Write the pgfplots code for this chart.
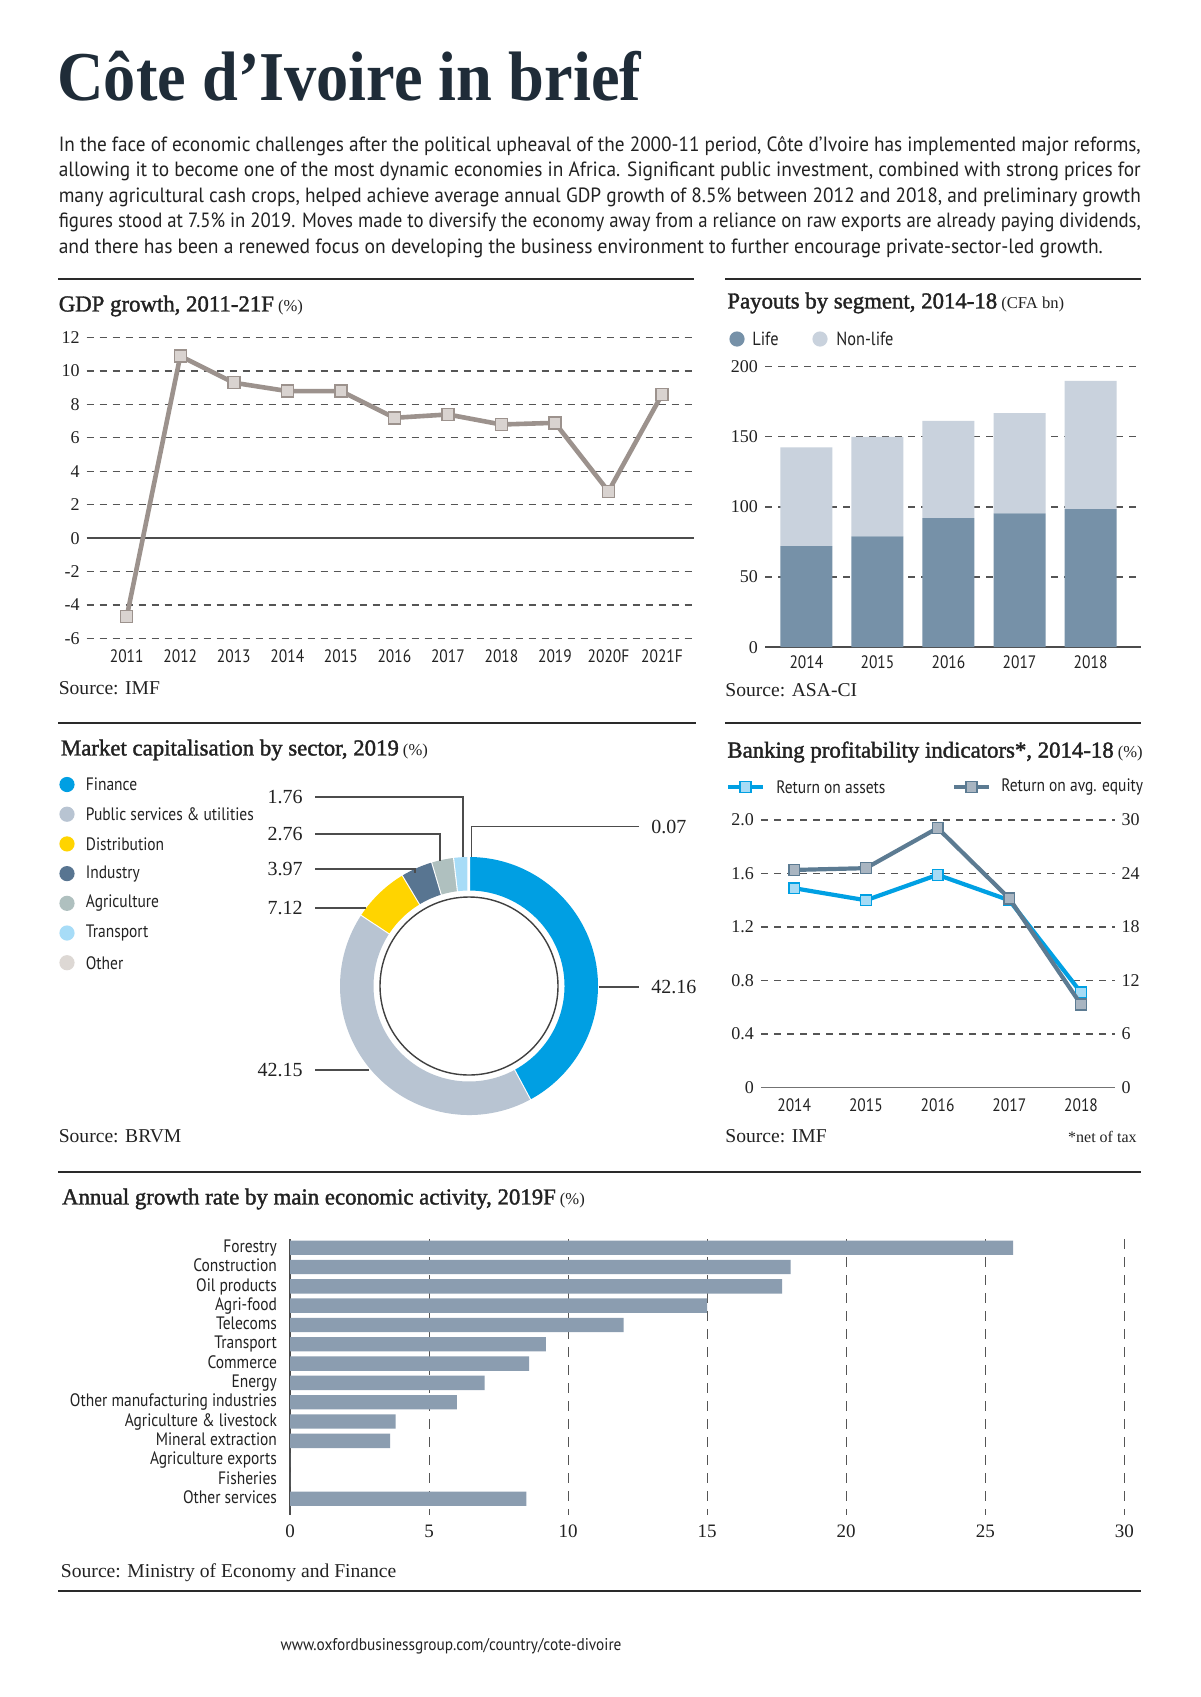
\documentclass[border=0pt]{standalone}
\usepackage{fontspec}
\usepackage{graphicx}
\usepackage{pgfplots}
\pgfplotsset{compat=1.18}
\setmainfont{PT Sans}
\newfontfamily\cond{PT Sans}[FakeStretch=0.86]
\newfontfamily\serif{Liberation Serif}
\newfontfamily\serifb{Liberation Serif}[FakeBold=1.6]
\newfontfamily\bigtitle{Liberation Serif}[FakeStretch=0.92]
\definecolor{titlenavy}{HTML}{1F2C38}
\definecolor{txt}{HTML}{222222}
\definecolor{rule}{HTML}{2A2A2A}
\definecolor{gridc}{HTML}{555555}
\definecolor{gdpline}{HTML}{9C928D}
\definecolor{gdpmark}{HTML}{D9D3D0}
\definecolor{life}{HTML}{7691A8}
\definecolor{nonlife}{HTML}{C9D2DD}
\definecolor{cfin}{HTML}{009FE3}
\definecolor{cpub}{HTML}{B8C4D2}
\definecolor{cdist}{HTML}{FFD400}
\definecolor{cind}{HTML}{587591}
\definecolor{cagr}{HTML}{AFC0BF}
\definecolor{ctra}{HTML}{A7DCF7}
\definecolor{coth}{HTML}{DDD8D4}
\definecolor{roa}{HTML}{00A0E3}
\definecolor{roafill}{HTML}{A6DBF5}
\definecolor{roae}{HTML}{5C7B92}
\definecolor{roaefill}{HTML}{A9B5C1}
\definecolor{barc}{HTML}{8B9DB0}
\newcommand{\ttl}[2]{{\serifb\fontsize{11.4}{13}\selectfont #1}{\serif\fontsize{8.3}{9}\selectfont\ (#2)}}
\newcommand{\src}[1]{{\serif\fontsize{9.8}{12}\selectfont #1}}
\pgfplotsset{
  common/.style={scale only axis, anchor=south west, clip=false,
    axis line style={draw=none}, major tick length=0pt,
    grid style={dash pattern=on 3.5pt off 3pt, line width=0.55pt, color=gridc},
    ticklabel style={text=txt},
    xticklabel style={font=\cond\fontsize{9}{10}\selectfont},
    yticklabel style={font=\serif\fontsize{9}{10}\selectfont}},
}
\begin{document}
\begin{tikzpicture}[x=0.5pt,y=-0.5pt]
\path[use as bounding box, fill=white] (0,0) rectangle (1200,1697);
% big title
\node[anchor=base west, inner sep=0, text=titlenavy] at (57,100.6) {\fontsize{35}{40}\selectfont\bigtitle\bfseries Côte d’Ivoire in brief};
% paragraph
\begin{scope}[every node/.style={anchor=base west, inner sep=0, text=txt}]
\node at (58.4,151.5) {\resizebox{541pt}{\height}{\cond\fontsize{10.3}{12}\selectfont In the face of economic challenges after the political upheaval of the 2000-11 period, Côte d’Ivoire has implemented major reforms,}};
\node at (58.4,176.9) {\resizebox{541pt}{\height}{\cond\fontsize{10.3}{12}\selectfont allowing it to become one of the most dynamic economies in Africa. Significant public investment, combined with strong prices for}};
\node at (58.4,202.3) {\resizebox{541pt}{\height}{\cond\fontsize{10.3}{12}\selectfont many agricultural cash crops, helped achieve average annual GDP growth of 8.5\% between 2012 and 2018, and preliminary growth}};
\node at (58.4,227.7) {\resizebox{541pt}{\height}{\cond\fontsize{10.3}{12}\selectfont figures stood at 7.5\% in 2019. Moves made to diversify the economy away from a reliance on raw exports are already paying dividends,}};
\node at (58.4,253.1) {\resizebox{522pt}{\height}{\cond\fontsize{10.3}{12}\selectfont and there has been a renewed focus on developing the business environment to further encourage private-sector-led growth.}};
\end{scope}
% rules
\begin{scope}[line width=1.1pt, draw=rule]
\draw (58.4,279) -- (693.6,279);
\draw (725,279) -- (1141,279);
\draw (58.4,723) -- (695.8,723);
\draw (725,723) -- (1141,723);
\draw (58.4,1172) -- (1141,1172);
\draw (58.4,1591) -- (1141,1591);
\end{scope}
% titles and sources
\begin{scope}[every node/.style={anchor=west, inner sep=0, text=txt}]
\node at (58.4,306) {\ttl{GDP growth, 2011-21F}{\%}};
\node at (58.4,688) {\src{Source: IMF}};
\node at (727,303) {\ttl{Payouts by segment, 2014-18}{CFA bn}};
\node at (725,690) {\src{Source: ASA-CI}};
\node at (60.6,750) {\ttl{Market capitalisation by sector, 2019}{\%}};
\node at (58.4,1136) {\src{Source: BRVM}};
\node at (727,752) {\ttl{Banking profitability indicators*, 2014-18}{\%}};
\node at (725,1136) {\src{Source: IMF}};
\node[anchor=east] at (1137,1137) {\serif\fontsize{8}{10}\selectfont *net of tax};
\node at (61.7,1199) {\ttl{Annual growth rate by main economic activity, 2019F}{\%}};
\node at (60.6,1573) {\src{Source: Ministry of Economy and Finance}};
\node[anchor=center] at (451,1646.7) {\resizebox{170.5pt}{\height}{\fontsize{8.5}{10}\selectfont www.oxfordbusinessgroup.com/country/cote-divoire}};
\end{scope}

% ---------------- GDP growth
\begin{axis}[common, at={(43.3pt,-319.2pt)}, width=303.5pt, height=150.4pt,
  xmin=-0.75, xmax=10.59, ymin=-6, ymax=12,
  xtick={0,...,10}, xticklabels={2011,2012,2013,2014,2015,2016,2017,2018,2019,2020F,2021F},
  ytick={-6,-4,-2,2,4,6,8,10,12}, yticklabels={-6,-4,-2,2,4,6,8,10,12},
  extra y ticks={0}, extra y tick labels={0},
  extra y tick style={major grid style={solid, line width=0.7pt, color=black!70}},
  ymajorgrids, xticklabel style={yshift=-2pt}]
\addplot[color=gdpline, line width=2.3pt, mark=square*, mark size=3pt,
  mark options={fill=gdpmark, draw=gdpline, line width=0.7pt, solid}]
  coordinates {(0,-4.7) (1,10.9) (2,9.3) (3,8.8) (4,8.8) (5,7.2) (6,7.4) (7,6.8) (8,6.9) (9,2.8) (10,8.6)};
\end{axis}

% ---------------- Payouts
\fill[life] (737,339) circle[radius=3.8pt];
\fill[nonlife] (820,339) circle[radius=3.8pt];
\node[anchor=west, inner sep=0, text=txt] at (752,339) {\cond\fontsize{9.5}{11}\selectfont Life};
\node[anchor=west, inner sep=0, text=txt] at (836,339) {\cond\fontsize{9.5}{11}\selectfont Non-life};
\begin{axis}[common, at={(382.5pt,-323.55pt)}, width=188pt, height=140.15pt,
  xmin=-0.583, xmax=4.71, ymin=0, ymax=200,
  ybar stacked, bar width=26pt,
  xtick={0,...,4}, xticklabels={2014,2015,2016,2017,2018},
  ytick={50,100,150,200}, yticklabels={50,100,150,200},
  extra y ticks={0}, extra y tick labels={0},
  extra y tick style={major grid style={solid, line width=0.7pt, color=black!70}},
  ymajorgrids, xticklabel style={yshift=-1pt}]
\addplot[fill=life, draw=none] coordinates {(0,72) (1,79) (2,92) (3,95.5) (4,98.5)};
\addplot[fill=nonlife, draw=none] coordinates {(0,70.5) (1,71) (2,69.5) (3,71.5) (4,91.5)};
\end{axis}

% ---------------- Market capitalisation donut
\begin{scope}[shift={(469,986)}, x=0.5pt, y=0.5pt]
\gdef\acc{90}
\foreach \v/\c in {42.16/cfin, 42.15/cpub, 7.12/cdist, 3.97/cind, 2.76/cagr, 1.76/ctra, 0.07/coth} {
  \pgfmathsetmacro\a{\acc}
  \pgfmathsetmacro\b{\acc-3.6*\v}
  \fill[\c] (\a:129) arc[start angle=\a, end angle=\b, radius=129] -- (\b:95.5) arc[start angle=\b, end angle=\a, radius=95.5] -- cycle;
  \draw[white, line width=1.1pt] (\b:94) -- (\b:131);
  \global\let\acc\b
}
\draw[white, line width=1.1pt] (90:94) -- (90:131);
\draw[black!75, line width=0.7pt] (0,0) circle[radius=89];
\end{scope}
\begin{scope}[black!70, line width=0.6pt]
\draw (315,797) -- (463,797) -- (463,857);
\draw (315,834) -- (440,834) -- (440,861);
\draw (315,869) -- (415,869) -- (415,873);
\draw (315,908) -- (366,908);
\draw (315,1070) -- (369,1070);
\draw (639,826.6) -- (471.5,826.6) -- (471.5,857);
\draw (599,987) -- (639,987);
\end{scope}
\begin{scope}[every node/.style={inner sep=0, text=txt, font=\serif\fontsize{10}{12}\selectfont}]
\node[anchor=east] at (303,797) {1.76};
\node[anchor=east] at (303,834) {2.76};
\node[anchor=east] at (303,869) {3.97};
\node[anchor=east] at (303,908) {7.12};
\node[anchor=east] at (303,1070) {42.15};
\node[anchor=west] at (651,826.6) {0.07};
\node[anchor=west] at (651,987) {42.16};
\end{scope}
\foreach \c/\t [count=\i from 0] in {cfin/Finance, cpub/Public services \& utilities, cdist/Distribution, cind/Industry, cagr/Agriculture, ctra/Transport, coth/Other} {
  \fill[\c] (67,{784.5+29.7*\i}) circle[radius=3.8pt];
  \node[anchor=west, inner sep=0, text=txt] at (85.5,{784.5+29.7*\i}) {\cond\fontsize{9}{11}\selectfont \t};
}

% ---------------- Banking profitability
\draw[roa, line width=2.2pt] (728,787) -- (763,787);
\draw[roa, fill=roafill, line width=0.7pt] (740,781.5) rectangle (751,792.5);
\node[anchor=west, inner sep=0, text=txt] at (776,787) {\cond\fontsize{9}{11}\selectfont Return on assets};
\draw[roae, line width=2.2pt] (954,787) -- (989,787);
\draw[roae, fill=roaefill, line width=0.7pt] (966,781.5) rectangle (977,792.5);
\node[anchor=west, inner sep=0, text=txt] at (1001,787) {\cond\fontsize{9}{11}\selectfont Return on avg. equity};
\begin{axis}[common, at={(380.5pt,-543.75pt)}, width=176.75pt, height=133.75pt,
  xmin=0.537, xmax=5.467, ymin=0, ymax=2,
  xtick={1,...,5}, xticklabels={2014,2015,2016,2017,2018},
  ytick={0.4,0.8,1.2,1.6,2.0}, yticklabels={0.4,0.8,1.2,1.6,2.0},
  extra y ticks={0}, extra y tick labels={0},
  extra y tick style={major grid style={solid, line width=0.7pt, color=black!55}},
  ymajorgrids, xticklabel style={yshift=-2pt}]
\addplot[color=roa, line width=2.1pt, mark=square*, mark size=2.7pt,
  mark options={fill=roafill, draw=roa, line width=0.7pt}]
  coordinates {(1,1.49) (2,1.40) (3,1.59) (4,1.40) (5,0.71)};
\end{axis}
\begin{axis}[common, at={(380.5pt,-543.75pt)}, width=176.75pt, height=133.75pt,
  xmin=0.537, xmax=5.467, ymin=0, ymax=30,
  yticklabel pos=right, xtick={1}, xticklabels={\mbox{}},
  ytick={0,6,...,30}, yticklabels={0,6,12,18,24,30}]
\addplot[color=roae, line width=2.1pt, mark=square*, mark size=2.7pt,
  mark options={fill=roaefill, draw=roae, line width=0.7pt}]
  coordinates {(1,24.4) (2,24.6) (3,29.1) (4,21.2) (5,9.3)};
\end{axis}

% ---------------- Annual growth rate by activity
\begin{axis}[common, at={(145pt,-757.5pt)}, width=417.15pt, height=138pt,
  xmin=0, xmax=30, ymin=-0.45, ymax=13.84, y dir=reverse,
  xbar, bar width=7.2pt,
  ytick={0,...,13},
  yticklabels={Forestry,Construction,Oil products,Agri-food,Telecoms,Transport,Commerce,Energy,Other manufacturing industries,Agriculture \& livestock,Mineral extraction,Agriculture exports,Fisheries,Other services},
  yticklabel style={font=\cond\fontsize{9}{11}\selectfont, xshift=-3pt, text height=6.6pt, text depth=1.9pt},
  xticklabel style={font=\serif\fontsize{9.5}{11}\selectfont, yshift=-1.5pt},
  xtick={5,10,...,30}, xticklabels={5,10,15,20,25,30},
  extra x ticks={0}, extra x tick labels={0},
  extra x tick style={major grid style={solid, line width=0.7pt, color=black!70}},
  xmajorgrids, grid style={dash pattern=on 5pt off 4pt}]
\addplot[fill=barc, draw=none] coordinates {(26,0) (18,1) (17.7,2) (15,3) (12,4) (9.2,5) (8.6,6) (7,7) (6,8) (3.8,9) (3.6,10) (0,11) (0,12) (8.5,13)};
\end{axis}
\end{tikzpicture}
\end{document}
